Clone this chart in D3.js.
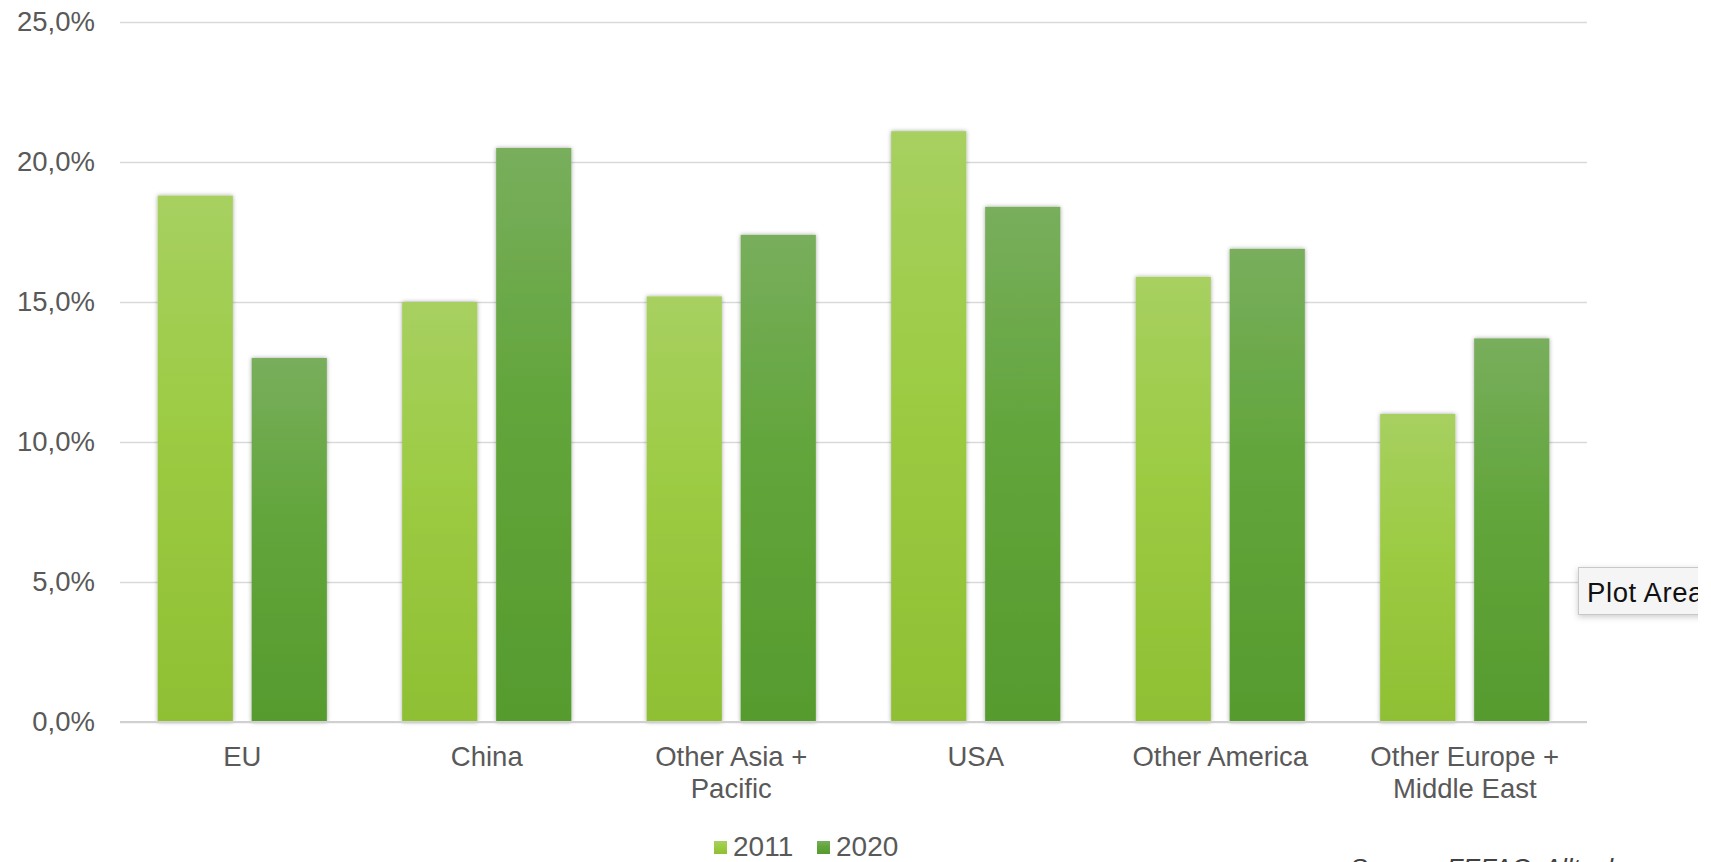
<!DOCTYPE html>
<html>
<head>
<meta charset="utf-8">
<script src="https://cdn.jsdelivr.net/npm/d3@7"></script>
<style>
  html, body { margin: 0; padding: 0; background: #fff; overflow: hidden; }
  svg { display: block; }
  text { font-family: "Liberation Sans", Arial, Helvetica, sans-serif; }
</style>
</head>
<body>
<svg id="chart" width="1711" height="862"></svg>
<script>
const categories = [["EU"], ["China"], ["Other Asia +", "Pacific"], ["USA"], ["Other America"], ["Other Europe +", "Middle East"]];
const seriesNames = ["2011", "2020"];
const values2011 = [18.8, 15.0, 15.2, 21.1, 15.9, 11.0];
const values2020 = [13.0, 20.5, 17.4, 18.4, 16.9, 13.7];
const yTicks = [0, 5, 10, 15, 20, 25];
const sourceText = "Source: FEFAC, Alltech";
const tooltipText = "Plot Area";

const svg = d3.select("#chart");
const defs = svg.append("defs");

const palette = {
  "2011": ["#a7d060", "#9ccb43", "#8fbf33"],
  "2020": ["#78ae5c", "#62a53b", "#569b2e"]
};
seriesNames.forEach(s => {
  const g = defs.append("linearGradient").attr("id", "grad" + s)
    .attr("x1", 0).attr("y1", 0).attr("x2", 0).attr("y2", 1);
  g.append("stop").attr("offset", "0%").attr("stop-color", palette[s][0]);
  g.append("stop").attr("offset", "45%").attr("stop-color", palette[s][1]);
  g.append("stop").attr("offset", "100%").attr("stop-color", palette[s][2]);
});
const f = defs.append("filter").attr("id", "shadow")
  .attr("x", "-20%").attr("y", "-5%").attr("width", "140%").attr("height", "110%");
f.append("feDropShadow").attr("dx", 0).attr("dy", 0).attr("stdDeviation", 2.2)
  .attr("flood-color", "#000").attr("flood-opacity", 0.35);
const tf = defs.append("filter").attr("id", "tshadow")
  .attr("x", "-20%").attr("y", "-30%").attr("width", "140%").attr("height", "180%");
tf.append("feDropShadow").attr("dx", 0).attr("dy", 2).attr("stdDeviation", 3)
  .attr("flood-color", "#000").attr("flood-opacity", 0.2);
defs.append("clipPath").attr("id", "vis").append("rect")
  .attr("x", 0).attr("y", 0).attr("width", 1698).attr("height", 862);

const plot = { left: 120, right: 1587, top: 22, bottom: 722 };

const x0 = d3.scaleBand().domain(d3.range(categories.length))
  .range([plot.left, plot.right]).paddingInner(0.308).paddingOuter(0.154);
const x1 = d3.scaleBand().domain(seriesNames).range([0, x0.bandwidth()])
  .paddingInner(0.2).paddingOuter(0);
const y = d3.scaleLinear().domain([0, 25]).range([plot.bottom, plot.top]);

// gridlines
const yAxis = d3.axisLeft(y).tickValues(yTicks)
  .tickSize(-(plot.right - plot.left)).tickPadding(25)
  .tickFormat(d => d.toFixed(1).replace(".", ",") + "%");
const ga = svg.append("g").attr("transform", `translate(${plot.left},0)`).call(yAxis);
ga.select(".domain").remove();
ga.selectAll(".tick line").attr("stroke", "#d9d9d9").attr("stroke-width", 1.5);
ga.selectAll(".tick text").attr("fill", "#595959").attr("font-size", 27.5)
  .attr("font-family", "'Liberation Sans', Arial, sans-serif").attr("x", -25);

// bars
const data = categories.map((c, i) => ({ i, vals: [values2011[i], values2020[i]] }));
const groups = svg.append("g").selectAll("g").data(data).join("g")
  .attr("transform", d => `translate(${x0(d.i)},0)`);
groups.selectAll("rect").data(d => seriesNames.map((s, k) => ({ s, v: d.vals[k] })))
  .join("rect")
  .attr("x", d => x1(d.s)).attr("width", x1.bandwidth())
  .attr("y", d => y(d.v)).attr("height", d => y(0) - y(d.v))
  .attr("fill", d => `url(#grad${d.s})`)
  .attr("filter", "url(#shadow)");

// baseline axis
const xAxis = d3.axisBottom(x0).tickSize(0).tickFormat("");
const gx = svg.append("g").attr("transform", `translate(0,${plot.bottom})`).call(xAxis);
gx.select(".domain").attr("stroke", "#d0d0d0").attr("stroke-width", 2)
  .attr("d", `M${plot.left},0H${plot.right}`);
gx.selectAll(".tick").each(function(d) {
  const t = d3.select(this).append("text").attr("fill", "#595959")
    .attr("font-size", 27.5).attr("text-anchor", "middle")
    .attr("font-family", "'Liberation Sans', Arial, sans-serif");
  categories[d].forEach((line, k) => {
    t.append("tspan").attr("x", 0).attr("y", 44 + k * 31.5).text(line);
  });
});

// legend
const legendItems = [{ s: "2011", x: 714 }, { s: "2020", x: 817 }];
const lg = svg.append("g");
legendItems.forEach(it => {
  lg.append("rect").attr("x", it.x).attr("y", 841).attr("width", 13).attr("height", 13)
    .attr("fill", `url(#grad${it.s})`);
  lg.append("text").attr("x", it.x + 19).attr("y", 856).attr("fill", "#595959")
    .attr("font-size", 28).text(it.s);
});

// source (cut at bottom, as in the reference)
svg.append("text").attr("x", 1350).attr("y", 877).attr("fill", "#404040")
  .attr("font-size", 26).attr("font-style", "italic").text(sourceText);

// tooltip
const tt = svg.append("g").attr("clip-path", "url(#vis)");
tt.append("rect").attr("x", 1578.5).attr("y", 567.5).attr("width", 200).attr("height", 47)
  .attr("fill", "#f5f5f5").attr("stroke", "#c8c8c8").attr("stroke-width", 1)
  .attr("filter", "url(#tshadow)");
tt.append("text").attr("x", 1587).attr("y", 602).attr("fill", "#111")
  .attr("font-size", 27.5).attr("letter-spacing", 0.6).text(tooltipText);
// white strip beyond image edge
svg.append("rect").attr("x", 1698).attr("y", 0).attr("width", 13).attr("height", 862).attr("fill", "#fff");
</script>
</body>
</html>
